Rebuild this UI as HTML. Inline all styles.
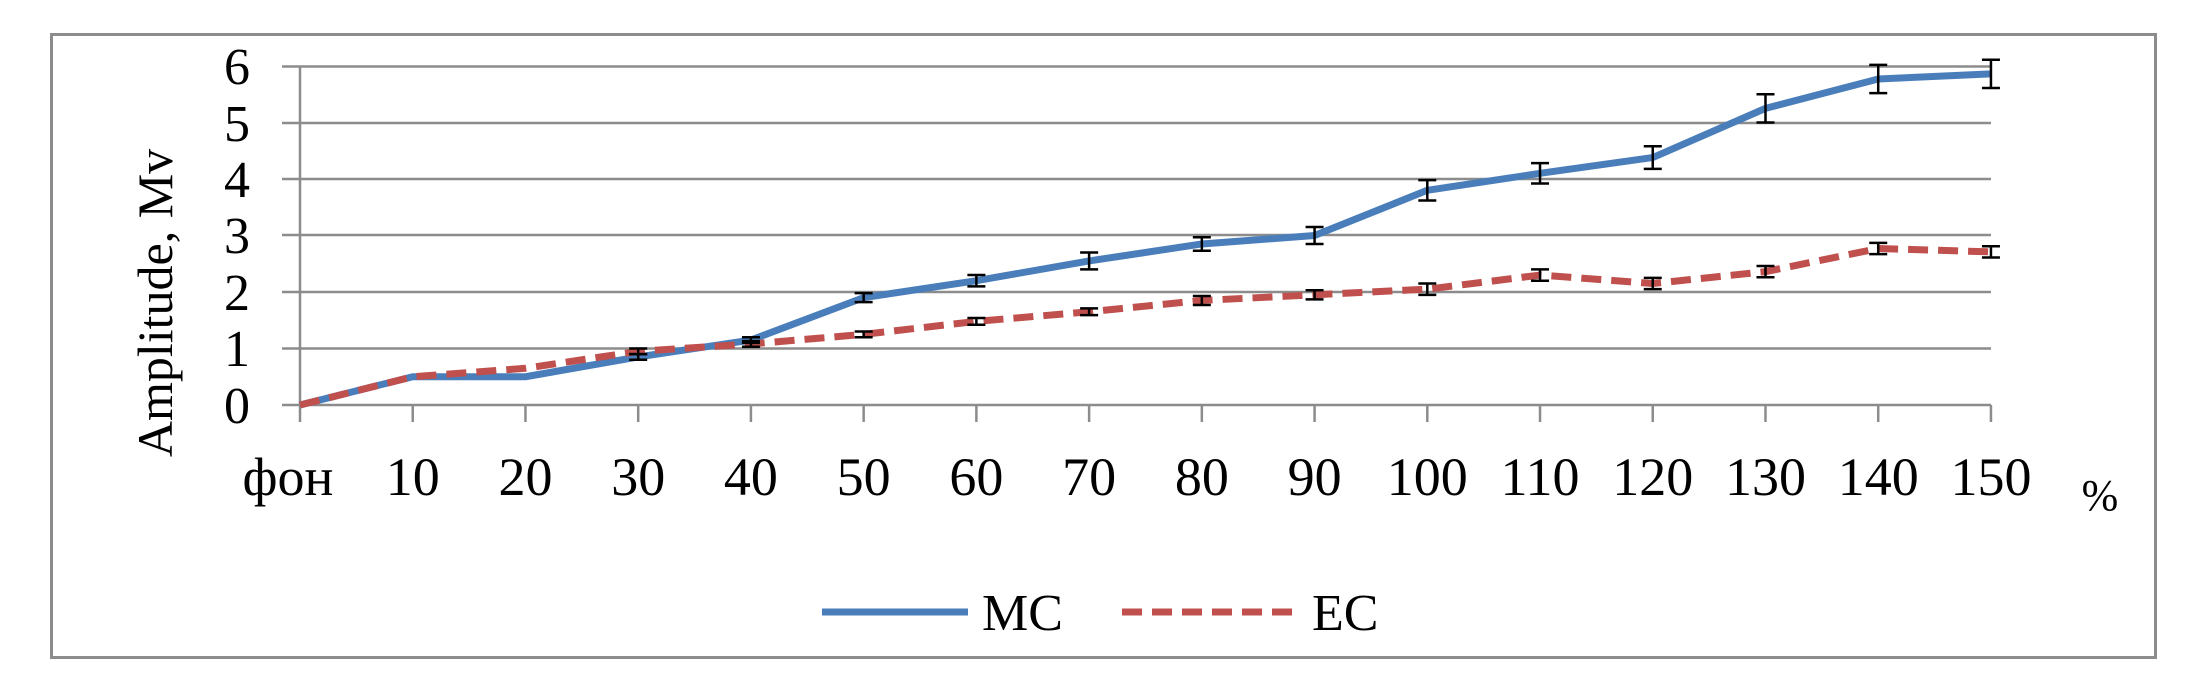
<!DOCTYPE html>
<html><head><meta charset="utf-8"><style>
html,body{margin:0;padding:0;background:#fff;}
svg text{font-family:"Liberation Serif",serif;fill:#000;}
</style></head><body>
<svg width="2200" height="672" viewBox="0 0 2200 672" xmlns="http://www.w3.org/2000/svg">
<rect x="51.5" y="34.5" width="2104" height="623" fill="#fff" stroke="#8c8c8c" stroke-width="3"/>
<g stroke="#8c8c8c" stroke-width="2.5">
<line x1="282" y1="66.5" x2="1991" y2="66.5"/>
<line x1="282" y1="123" x2="1991" y2="123"/>
<line x1="282" y1="179" x2="1991" y2="179"/>
<line x1="282" y1="235" x2="1991" y2="235"/>
<line x1="282" y1="292" x2="1991" y2="292"/>
<line x1="282" y1="348.5" x2="1991" y2="348.5"/>
<line x1="282" y1="405" x2="1991" y2="405"/>
<line x1="300" y1="66" x2="300" y2="422"/>
</g>
<g stroke="#8c8c8c" stroke-width="2.5" id="ticks"></g>
<g font-size="52" text-anchor="end">
<text x="250" y="423">0</text><text x="250" y="366">1</text><text x="250" y="310">2</text>
<text x="250" y="253">3</text><text x="250" y="197">4</text><text x="250" y="141">5</text><text x="250" y="84">6</text>
</g>
<text font-size="50" text-anchor="middle" transform="translate(172,303) rotate(-90)">Amplitude, Mv</text>
<g id="xl" font-size="54" text-anchor="middle"></g>
<text x="2100" y="510" font-size="44" text-anchor="middle">%</text>
<polyline id="mc" fill="none" stroke="#4a7ebb" stroke-width="7" stroke-linejoin="round"/>
<polyline id="ec" fill="none" stroke="#c0504d" stroke-width="7" stroke-dasharray="20,10" stroke-linejoin="round"/>
<g id="eb" stroke="#000" stroke-width="2.5"></g>
<line x1="822" y1="612" x2="968" y2="612" stroke="#4a7ebb" stroke-width="7"/>
<text x="982" y="630" font-size="52">MC</text>
<line x1="1122" y1="612" x2="1292" y2="612" stroke="#c0504d" stroke-width="7" stroke-dasharray="20,10"/>
<text x="1312" y="630" font-size="52">EC</text>
</svg>
<script>
var ns="http://www.w3.org/2000/svg";
var mc=[0,0.5,0.5,0.85,1.15,1.9,2.2,2.55,2.85,3.0,3.8,4.1,4.38,5.25,5.77,5.86];
var ec=[0,0.5,0.65,0.95,1.08,1.25,1.48,1.65,1.85,1.95,2.05,2.3,2.15,2.36,2.77,2.71];
var mce=[0,0,0,0.05,0.05,0.08,0.1,0.15,0.12,0.15,0.18,0.18,0.2,0.25,0.25,0.25];
var ece=[0,0,0,0.05,0.05,0.05,0.06,0.06,0.08,0.08,0.1,0.1,0.1,0.1,0.1,0.1];
var labs=["фон","10","20","30","40","50","60","70","80","90","100","110","120","130","140","150"];
function X(i){return 300+i*112.73;} function Y(v){return 405-v*56.5;}
var t=document.getElementById("ticks"),xl=document.getElementById("xl"),eb=document.getElementById("eb");
var pm="",pe="";
for(var i=0;i<16;i++){
 if(i>0){var l=document.createElementNS(ns,"line");l.setAttribute("x1",X(i));l.setAttribute("x2",X(i));l.setAttribute("y1",405);l.setAttribute("y2",422);t.appendChild(l);}
 var tx=document.createElementNS(ns,"text");tx.setAttribute("x",X(i)+(i==0?-12:0));tx.setAttribute("y",495);tx.textContent=labs[i];xl.appendChild(tx);
 pm+=X(i)+","+Y(mc[i])+" ";pe+=X(i)+","+Y(ec[i])+" ";
 [[mc[i],mce[i]],[ec[i],ece[i]]].forEach(function(d){if(d[1]<=0)return;
  var x=X(i),a=Y(d[0]+d[1]),b=Y(d[0]-d[1]);
  [[x,a,x,b],[x-9,a,x+9,a],[x-9,b,x+9,b]].forEach(function(c){var l=document.createElementNS(ns,"line");l.setAttribute("x1",c[0]);l.setAttribute("y1",c[1]);l.setAttribute("x2",c[2]);l.setAttribute("y2",c[3]);eb.appendChild(l);});});
}
document.getElementById("mc").setAttribute("points",pm);
document.getElementById("ec").setAttribute("points",pe);
</script>
</body></html>
